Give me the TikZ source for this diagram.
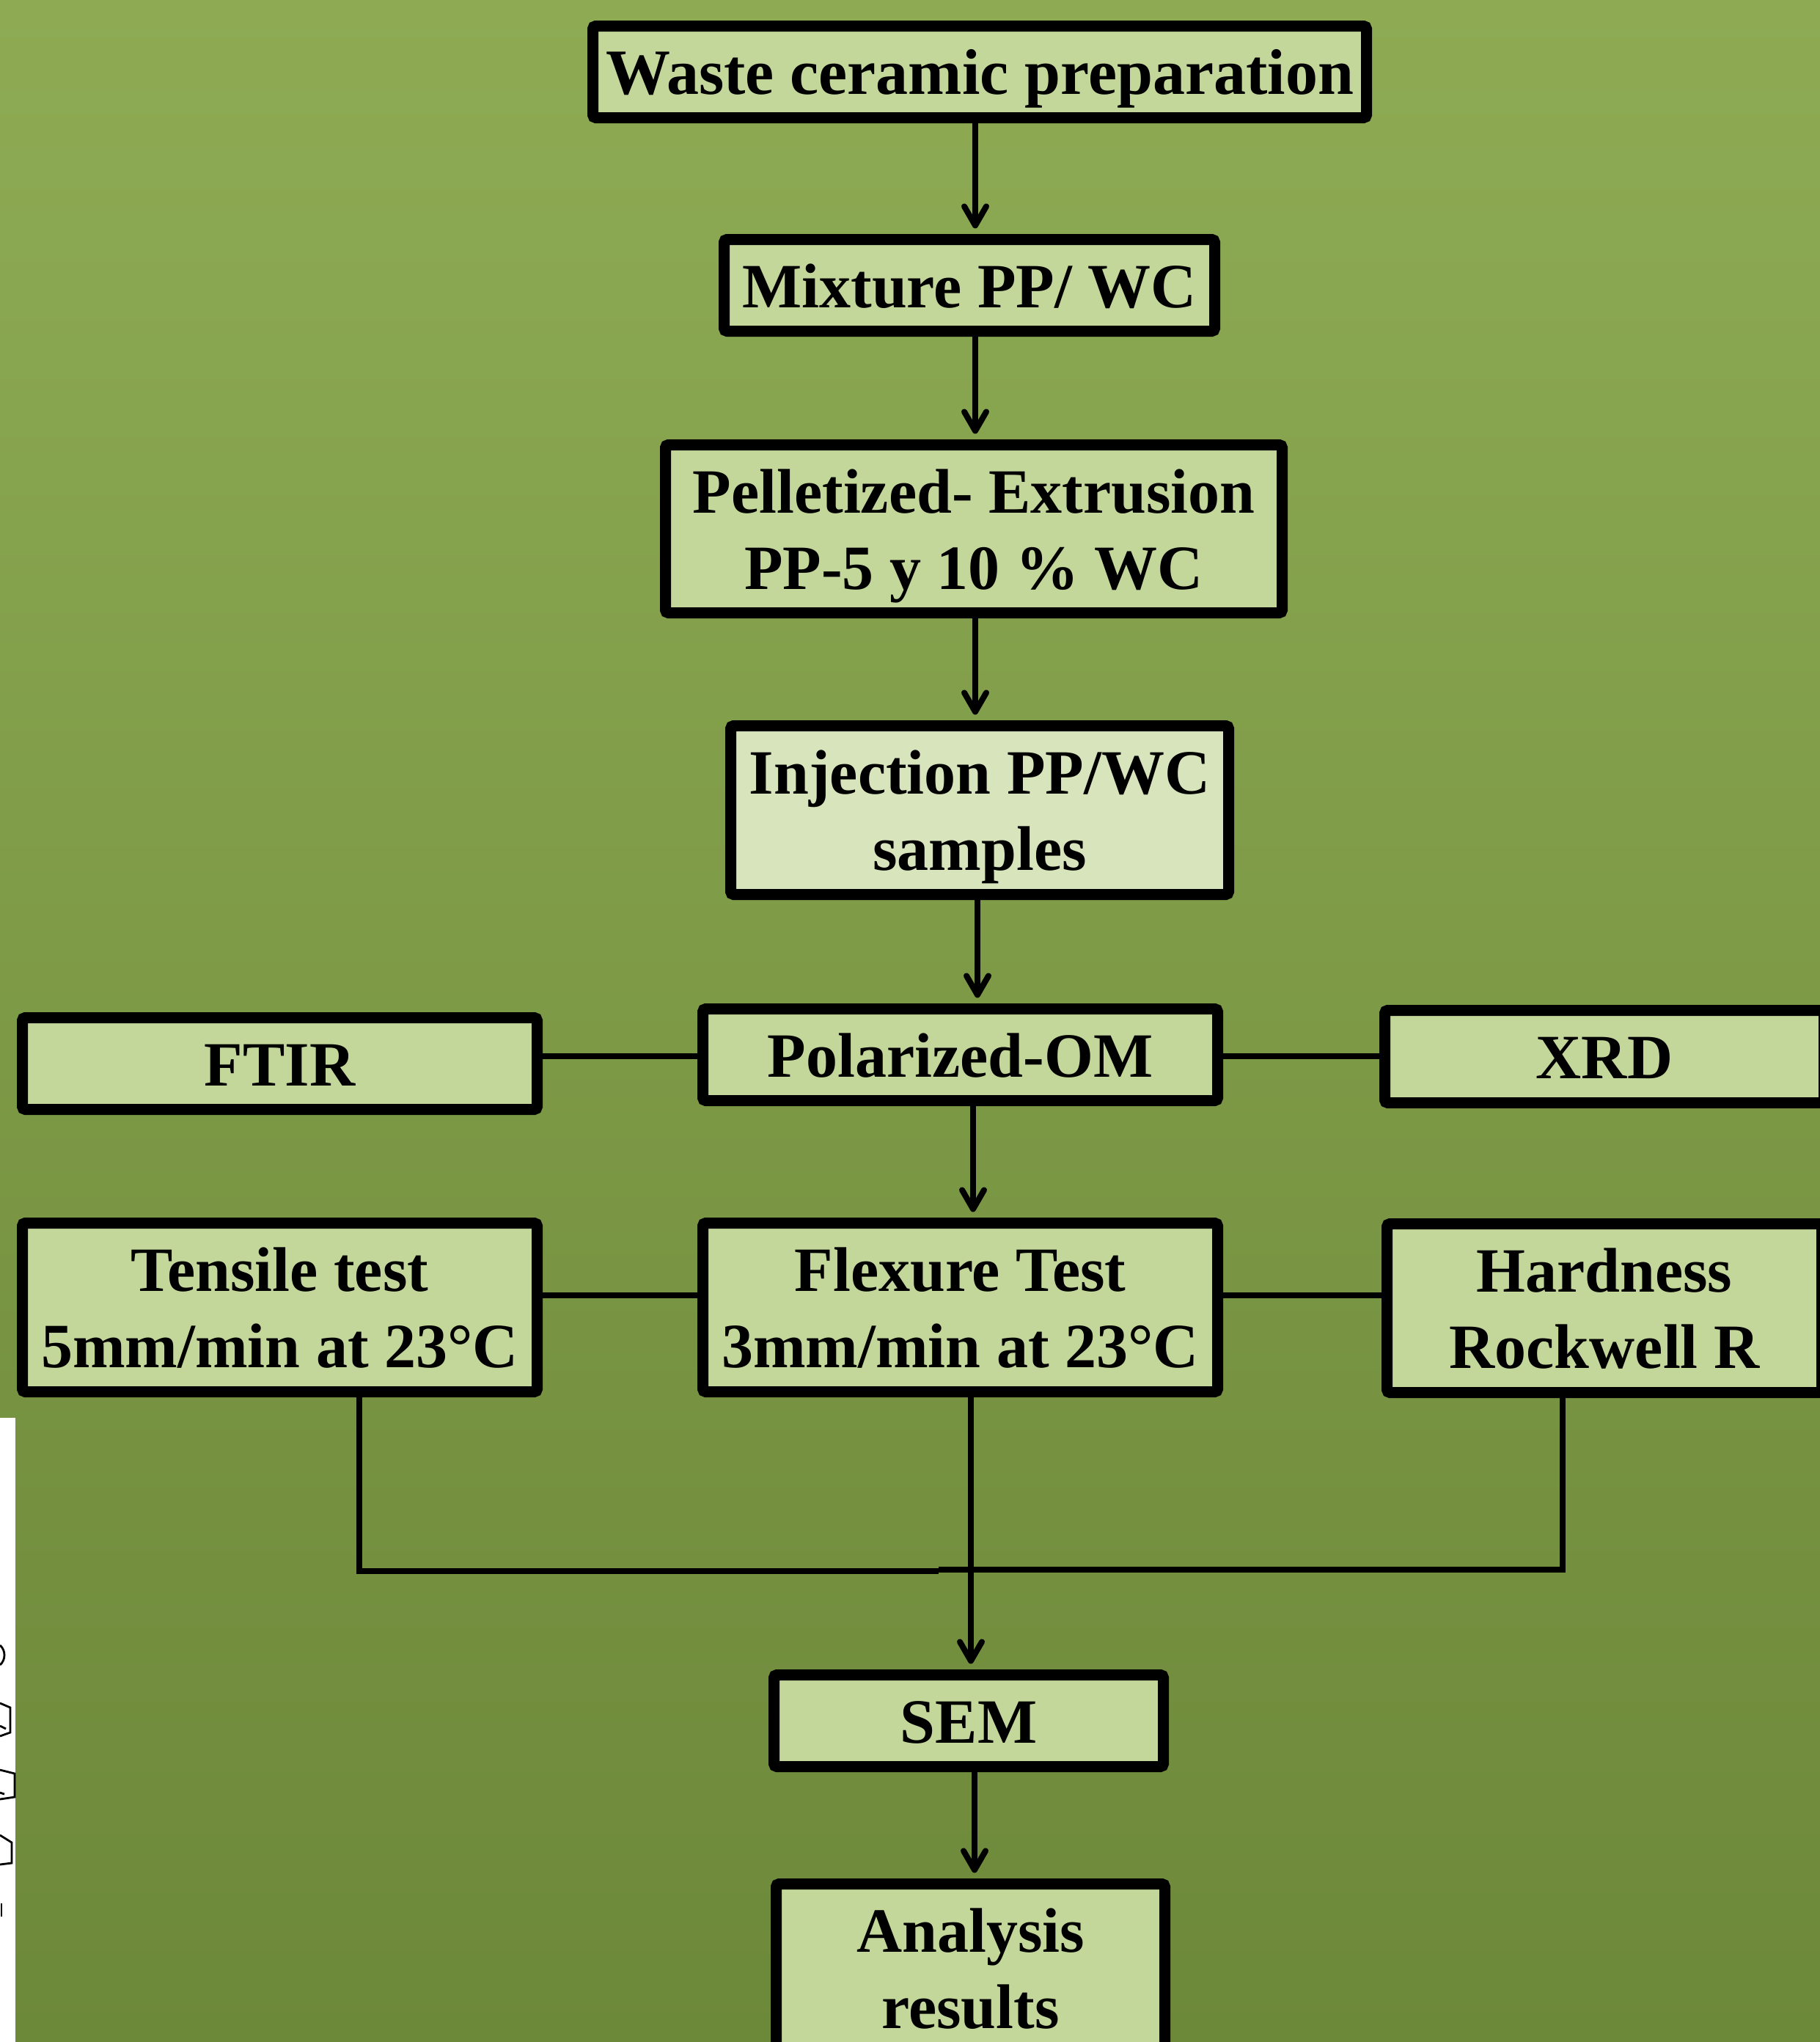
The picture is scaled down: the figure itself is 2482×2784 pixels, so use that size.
\documentclass[tikz,border=0pt]{standalone}
\usepackage{fontspec}
\setmainfont{Liberation Serif}
\usetikzlibrary{arrows.meta}
\definecolor{bgtop}{RGB}{142,171,84}
\definecolor{bgbot}{RGB}{108,136,57}
\definecolor{boxfill}{RGB}{196,215,155}
\definecolor{boxlight}{RGB}{216,228,188}
\begin{document}
\begin{tikzpicture}[x=0.25pt,y=-0.25pt,
  box/.style={draw=black, line width=3.75pt, fill=boxfill, rounded corners=1pt,
    inner sep=0pt, align=center, font=\fontsize{21.5}{26}\selectfont\bfseries,
    text height=15pt, text depth=0pt},
  boxtwo/.style={box, text height=41pt, text depth=0pt},
  ln/.style={line width=2pt},
  arr/.style={ln, -{Straight Barb[length=6.5pt,width=7.5pt,line cap=round,line join=round]}, shorten >=1.9pt},
  frag/.style={line width=0.7pt, black}
]
\useasboundingbox (0,0) rectangle (2482,2784);
\clip (0,0) rectangle (2482,2784);
\shade[top color=bgtop, bottom color=bgbot] (0,0) rectangle (2482,2784);

% white strip at the left edge with fragments
\fill[white] (0,1933) rectangle (21,2784);
\draw[frag] (0,2243) .. controls (8,2250) and (8,2263) .. (0,2270);
\draw[frag] (0,2322) -- (14,2328) -- (14,2362) -- (0,2367);
\draw[frag] (0,2353) -- (8,2357);
\draw[frag] (0,2413) -- (20,2418) -- (20,2450) -- (0,2453);
\draw[frag] (0,2444) -- (6,2446);
\draw[frag] (0,2502) -- (16,2512) -- (16,2540) -- (0,2542);
\draw[frag] (2,2595) -- (2,2613);

% boxes
\node[box, font=\fontsize{22}{26}\selectfont\bfseries, minimum width=263.75pt, minimum height=31.25pt] (W) at (1336,98) {Waste ceramic preparation};
\node[box, minimum width=167.25pt, minimum height=31.25pt] (M) at (1322,389) {Mixture PP/ WC};
\node[boxtwo, minimum width=210.25pt, minimum height=57.25pt] (Pe) at (1328,721) {Pelletized- Extrusion\\PP-5 y 10 \% WC};
\node[boxtwo, fill=boxlight, minimum width=169.75pt, minimum height=57.5pt] (I) at (1336,1104.5) {Injection PP/WC\\samples};
\node[box, minimum width=175.5pt, minimum height=31.25pt] (P) at (1309.5,1438) {Polarized-OM};
\node[box, minimum width=175.5pt, minimum height=31.25pt] (F) at (381.5,1450) {FTIR};
\node[box, minimum width=149.75pt, minimum height=31.5pt] (X) at (2188,1440.5) {XRD};
\node[boxtwo, minimum width=175.5pt, minimum height=57.5pt] (T) at (381.5,1782.5) {Tensile test\\5mm/min at 23°C};
\node[boxtwo, minimum width=175.5pt, minimum height=57.5pt] (Fl) at (1309.5,1782.5) {Flexure Test\\3mm/min at 23°C};
\node[boxtwo, minimum width=148.25pt, minimum height=57.5pt] (H) at (2188,1783.5) {Hardness\\Rockwell R};
\node[box, minimum width=132.75pt, minimum height=31.25pt] (S) at (1321,2346) {SEM};
\node[boxtwo, minimum width=132.5pt, minimum height=57.5pt] (A) at (1323.5,2683.5) {Analysis\\results};

% helper coordinates
\coordinate (c1) at (1330,0);
\coordinate (c2) at (1333,0);
\coordinate (c3) at (1327,0);
\coordinate (c4) at (1324,0);
\coordinate (c5) at (1329,0);
\coordinate (yA) at (0,1440);
\coordinate (yB) at (0,1766);
\coordinate (j1) at (490,2142);
\coordinate (j2) at (1280,2142);
\coordinate (j3) at (1280,2140);
\coordinate (j4) at (2131,2140);

% connectors
\draw[arr] (W.south -| c1) -- (M.north -| c1);
\draw[arr] (M.south -| c1) -- (Pe.north -| c1);
\draw[arr] (Pe.south -| c1) -- (I.north -| c1);
\draw[arr] (I.south -| c2) -- (P.north -| c2);
\draw[arr] (P.south -| c3) -- (Fl.north -| c3);
\draw[arr] (Fl.south -| c4) -- (S.north -| c4);
\draw[arr] (S.south -| c5) -- (A.north -| c5);

\draw[ln] (F.east |- yA) -- (P.west |- yA);
\draw[ln] (P.east |- yA) -- (X.west |- yA);
\draw[ln] (T.east |- yB) -- (Fl.west |- yB);
\draw[ln] (Fl.east |- yB) -- (H.west |- yB);

\draw[ln] (T.south -| j1) -- (j1) -- (j2);
\draw[ln] (j3) -- (j4) -- (H.south -| j4);
\end{tikzpicture}
\end{document}
